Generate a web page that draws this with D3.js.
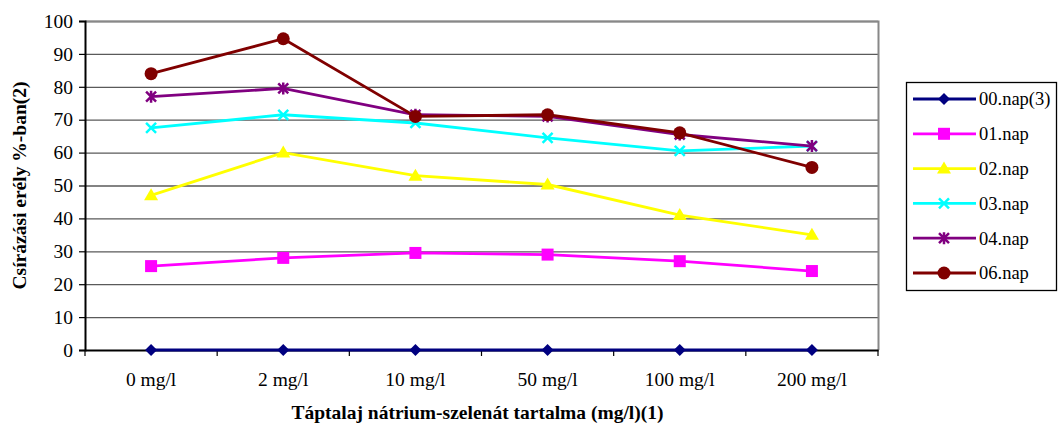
<!DOCTYPE html>
<html>
<head>
<meta charset="utf-8">
<script src="https://cdn.jsdelivr.net/npm/d3@7"></script>
<style>
  html, body { margin: 0; padding: 0; background: #fff; }
  svg { display: block; font-family: "Liberation Serif", "Times New Roman", serif; }
</style>
</head>
<body>
<svg id="chart" width="1061" height="428"></svg>
<script>
// Concentrations of sodium selenate in the medium
const categories = ["0 mg/l", "2 mg/l", "10 mg/l", "50 mg/l", "100 mg/l", "200 mg/l"];
const yTicks = [0, 10, 20, 30, 40, 50, 60, 70, 80, 90, 100];

// Germination energy (%) per counting day
const nap00 = [0, 0, 0, 0, 0, 0];
const nap01 = [25.5, 28, 29.5, 29, 27, 24];
const nap02 = [47, 60, 53, 50.3, 41, 35];
const nap03 = [67.5, 71.5, 69, 64.5, 60.5, 62];
const nap04 = [77, 79.5, 71.5, 71, 65.5, 62];
const nap06 = [84, 94.6, 71, 71.5, 66, 55.5];

const seriesNames = ["00.nap(3)", "01.nap", "02.nap", "03.nap", "04.nap", "06.nap"];
const seriesValues = [nap00, nap01, nap02, nap03, nap04, nap06];
const seriesColors = ["#000080", "#FF00FF", "#FFFF00", "#00FFFF", "#800080", "#800000"];
const seriesMarkers = ["diamond", "square", "triangle", "cross", "asterisk", "circle"];

const svg = d3.select("#chart");
const plot = { left: 85, top: 21, right: 878, bottom: 350 };
const fontSize = 19.5;

const x = d3.scaleBand().domain(categories).range([plot.left, plot.right]);
const y = d3.scaleLinear().domain([0, 100]).range([plot.bottom, plot.top]);
const cx = c => x(c) + x.bandwidth() / 2;

// Horizontal gridlines
svg.append("g").selectAll("line").data(yTicks.filter(t => t > 0)).join("line")
  .attr("x1", plot.left).attr("x2", plot.right)
  .attr("y1", d => y(d) + 0.5).attr("y2", d => y(d) + 0.5)
  .attr("stroke", "#5a5a5a").attr("stroke-width", 1.3);

// Plot frame (top & right in gray)
svg.append("path")
  .attr("d", `M${plot.left},${plot.top + 0.5}H${plot.right + 0.5}V${plot.bottom}`)
  .attr("fill", "none").attr("stroke", "#888").attr("stroke-width", 2);

// Y axis
const yAxis = svg.append("g")
  .attr("transform", `translate(${plot.left},0)`)
  .call(d3.axisLeft(y).tickValues(yTicks).tickSize(6).tickPadding(6));
yAxis.attr("font-family", null);
yAxis.select(".domain").attr("stroke", "#000").attr("stroke-width", 2);
yAxis.selectAll(".tick line").attr("stroke", "#000").attr("stroke-width", 1.2);
yAxis.selectAll(".tick text").attr("font-size", fontSize).attr("fill", "#000");

// X axis
const xAxis = svg.append("g")
  .attr("transform", `translate(0,${plot.bottom})`)
  .call(d3.axisBottom(x).tickSize(0).tickPadding(22));
xAxis.attr("font-family", null);
xAxis.select(".domain").attr("stroke", "#000").attr("stroke-width", 2);
xAxis.selectAll(".tick text").attr("font-size", fontSize).attr("fill", "#000");
// Tick marks between categories
svg.append("g").selectAll("line")
  .data(categories.map(c => x(c)).concat([plot.right])).join("line")
  .attr("x1", d => d).attr("x2", d => d)
  .attr("y1", plot.bottom).attr("y2", plot.bottom + 6)
  .attr("stroke", "#000").attr("stroke-width", 1.2);

// Axis titles
svg.append("text")
  .attr("x", (plot.left + plot.right) / 2 - 4).attr("y", 419)
  .attr("text-anchor", "middle").attr("font-weight", "bold").attr("font-size", fontSize)
  .text("Táptalaj nátrium-szelenát tartalma (mg/l)(1)");
svg.append("text")
  .attr("transform", `translate(26,${(plot.top + plot.bottom) / 2}) rotate(-90)`)
  .attr("text-anchor", "middle").attr("font-weight", "bold").attr("font-size", fontSize)
  .text("Csírázási erély %-ban(2)");

// Marker drawing
function drawMarker(g, type, color) {
  switch (type) {
    case "diamond":
      g.append("path").attr("d", "M0,-6L6,0L0,6L-6,0Z").attr("fill", color);
      break;
    case "square":
      g.append("rect").attr("x", -6).attr("y", -6).attr("width", 12).attr("height", 12).attr("fill", color);
      break;
    case "triangle":
      g.append("path").attr("d", "M0,-7L7,5L-7,5Z").attr("fill", color);
      break;
    case "cross":
      g.append("path").attr("d", "M-5,-5L5,5M-5,5L5,-5").attr("stroke", color).attr("stroke-width", 2.5);
      break;
    case "asterisk":
      g.append("path").attr("d", "M-5,-5L5,5M-5,5L5,-5M0,-6V6").attr("stroke", color).attr("stroke-width", 2.5);
      break;
    case "circle":
      g.append("circle").attr("r", 6.5).attr("fill", color);
      break;
  }
}

const line = d3.line().x((d, i) => cx(categories[i])).y(d => y(d));

seriesValues.forEach((vals, s) => {
  const g = svg.append("g");
  g.append("path").datum(vals).attr("d", line)
    .attr("fill", "none").attr("stroke", seriesColors[s]).attr("stroke-width", 2.8);
  vals.forEach((v, i) => {
    const m = g.append("g").attr("transform", `translate(${cx(categories[i])},${y(v)})`);
    drawMarker(m, seriesMarkers[s], seriesColors[s]);
  });
});

// Legend
const legend = svg.append("g");
legend.append("rect").attr("x", 906.5).attr("y", 82.5).attr("width", 150).attr("height", 208)
  .attr("fill", "#fff").attr("stroke", "#000").attr("stroke-width", 1.3);
seriesNames.forEach((name, s) => {
  const ly = 99 + s * 34.8;
  legend.append("line").attr("x1", 913).attr("x2", 976).attr("y1", ly).attr("y2", ly)
    .attr("stroke", seriesColors[s]).attr("stroke-width", 2.8);
  const m = legend.append("g").attr("transform", `translate(944,${ly})`);
  drawMarker(m, seriesMarkers[s], seriesColors[s]);
  legend.append("text").attr("x", 979).attr("y", ly).attr("dy", "0.35em")
    .attr("font-size", 18.5).text(name);
});
</script>
</body>
</html>
